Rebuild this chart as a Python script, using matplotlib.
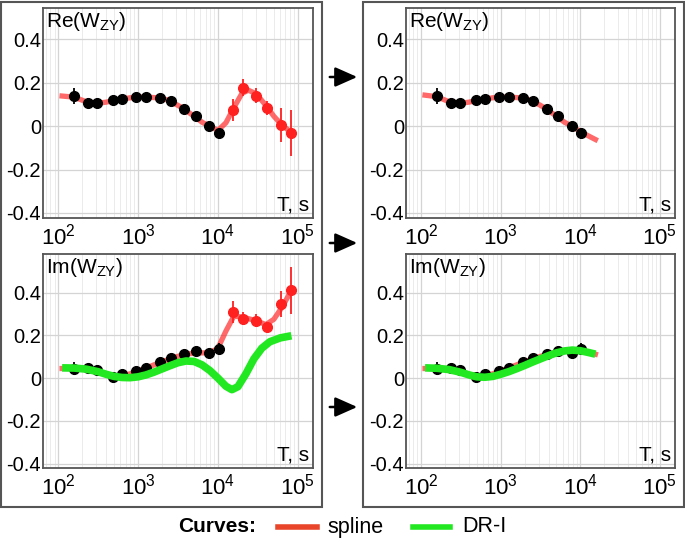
import numpy as np
import matplotlib
matplotlib.use("Agg")
import matplotlib.pyplot as plt
from matplotlib.patches import Rectangle, FancyArrowPatch
from matplotlib.lines import Line2D
from matplotlib.ticker import LogLocator, FixedLocator, NullFormatter

plt.rcParams['font.family'] = ['Liberation Sans', 'DejaVu Sans']
plt.rcParams['mathtext.fontset'] = 'custom'
plt.rcParams['mathtext.rm'] = 'Liberation Sans'
plt.rcParams['mathtext.it'] = 'Liberation Sans'

#--------------------------------------------------
# data
# observed points, T < 1e4 (black) and T > 1e4 (red)
T_blk = [160, 234, 310, 490, 630, 955, 1260, 1900, 2570, 3800, 5250, 7760, 10200]
T_red = [15500, 20400, 30200, 40700, 61700, 83200]

re_blk  = [0.138, 0.108, 0.104, 0.120, 0.125, 0.132, 0.132, 0.129, 0.116, 0.078, 0.048, 0.000, -0.033]
re_blk_err = [0.035, 0.02, 0.02, 0.015, 0.015, 0.012, 0.012, 0.012, 0.012, 0.012, 0.012, 0.015, 0.025]
re_red  = [0.075, 0.177, 0.140, 0.083, 0.005, -0.033]
re_red_err = [0.05, 0.04, 0.035, 0.03, 0.08, 0.105]

im_blk  = [0.043, 0.046, 0.040, 0.005, 0.017, 0.032, 0.048, 0.074, 0.094, 0.115, 0.125, 0.117, 0.138]
im_blk_err = [0.03, 0.02, 0.02, 0.012, 0.012, 0.012, 0.012, 0.012, 0.012, 0.012, 0.012, 0.015, 0.025]
im_red  = [0.309, 0.277, 0.268, 0.238, 0.346, 0.411]
im_red_err = [0.05, 0.03, 0.03, 0.015, 0.06, 0.11]

# spline curves, full range (left column)
T_spl   = [112, 158, 224, 316, 400, 501, 631, 794, 1000, 1259, 1585, 1995, 2512, 3162, 3981, 5012, 6310,
           7943, 10000, 12589, 15849, 19953, 23988, 30200, 39811, 50119, 63096, 83176]
re_spl  = [0.138, 0.133, 0.112, 0.105, 0.110, 0.118, 0.124, 0.130, 0.133, 0.133, 0.131, 0.128, 0.115, 0.095,
           0.072, 0.045, 0.018, -0.002, -0.020, 0.015, 0.085, 0.150, 0.165, 0.148, 0.095, 0.045, 0.005, -0.030]
im_spl  = [0.045, 0.046, 0.044, 0.032, 0.018, 0.010, 0.012, 0.020, 0.034, 0.047, 0.062, 0.076, 0.090, 0.102,
           0.112, 0.117, 0.118, 0.118, 0.140, 0.220, 0.290, 0.285, 0.278, 0.268, 0.250, 0.275, 0.330, 0.410]

# spline curves, truncated range (right column)
T_spl2  = [112, 158, 224, 316, 400, 501, 631, 794, 1000, 1259, 1585, 1995, 2512, 3162, 3981, 5012, 6310,
           7943, 10000, 12589, 15500]
re_spl2 = [0.142, 0.135, 0.112, 0.105, 0.110, 0.118, 0.124, 0.130, 0.133, 0.133, 0.131, 0.128, 0.115, 0.095,
           0.072, 0.045, 0.018, -0.002, -0.025, -0.045, -0.062]
im_spl2 = [0.045, 0.046, 0.044, 0.032, 0.018, 0.010, 0.012, 0.020, 0.034, 0.047, 0.062, 0.076, 0.090, 0.102,
           0.112, 0.120, 0.126, 0.128, 0.128, 0.122, 0.112]

# DR-I curves
T_dr    = [112, 158, 224, 316, 398, 501, 631, 794, 1000, 1259, 1585, 1995, 2512, 3162, 3981, 5012, 6310,
           7943, 10000, 12589, 14962, 17783, 22387, 28184, 35481, 44668, 60256, 83176]
im_dr   = [0.048, 0.047, 0.042, 0.030, 0.018, 0.008, 0.003, 0.002, 0.006, 0.015, 0.028, 0.043, 0.058, 0.072,
           0.080, 0.078, 0.062, 0.035, 0.000, -0.038, -0.054, -0.040, 0.020, 0.090, 0.140, 0.170, 0.188, 0.198]
T_dr2   = [112, 158, 224, 316, 400, 501, 631, 794, 1000, 1259, 1585, 1995, 2512, 3162, 3981, 5012, 6310,
           7943, 10000, 12589, 15500]
im_dr2  = [0.048, 0.046, 0.040, 0.027, 0.015, 0.006, 0.004, 0.008, 0.018, 0.030, 0.044, 0.059, 0.075, 0.090,
           0.105, 0.118, 0.127, 0.131, 0.128, 0.120, 0.112]

yticks = [-0.4, -0.2, 0, 0.2, 0.4]
yticklabels = ['-0.4', '-0.2', '0', '0.2', '0.4']
xticks = [1e2, 1e3, 1e4, 1e5]

#--------------------------------------------------
W, H = 685, 545
fig = plt.figure(figsize=(W/100, H/100), dpi=100)

def px_rect(x0, y0, x1, y1):
    return [x0/W, 1 - y1/H, (x1 - x0)/W, (y1 - y0)/H]

# outer frames
for x0, x1 in [(1, 322), (363, 684)]:
    r = px_rect(x0, 2, x1, 507)
    fig.patches.append(Rectangle((r[0], r[1]), r[2], r[3], transform=fig.transFigure,
                                 fill=False, ec='#555555', lw=1.5))

spline_col = '#ff2a2a'
green_col  = '#22e822'

def setup(ax, title, ylim):
    ax.set_xscale('log')
    ax.set_xlim(10**1.81, 10**5.19)
    ax.set_ylim(ylim)
    ax.set_yticks(yticks)
    ax.set_yticklabels(yticklabels)
    ax.xaxis.set_major_locator(FixedLocator(xticks))
    ax.xaxis.set_minor_locator(LogLocator(base=10, subs=np.arange(2, 10)))
    ax.xaxis.set_minor_formatter(NullFormatter())
    ax.grid(True, which='major', color='#d4d4d4', lw=0.9)
    ax.grid(True, which='minor', axis='x', color='#ebebeb', lw=0.7)
    ax.set_axisbelow(True)
    ax.tick_params(axis='both', which='both', length=0)
    ax.tick_params(axis='y', labelsize=14.5, pad=1.5)
    ax.tick_params(axis='x', labelsize=16, pad=4)
    for s in ax.spines.values():
        s.set_color('#555555')
        s.set_linewidth(1.3)
    ax.text(0.012, 0.99, title, transform=ax.transAxes, ha='left', va='top', fontsize=15)
    ax.text(0.985, 0.015, 'T, s', transform=ax.transAxes, ha='right', va='bottom', fontsize=15)

def points(ax, T, v, e, col):
    ax.errorbar(T, v, yerr=e, fmt='o', color=col, ms=7, elinewidth=1.3, capsize=0, zorder=4)

ylim_top = (-0.423, 0.543)
ylim_bot = (-0.42, 0.58)

ax_tl = fig.add_axes(px_rect(43, 8, 313, 218))
ax_bl = fig.add_axes(px_rect(43, 254, 313, 468))
ax_tr = fig.add_axes(px_rect(406, 8, 675, 218))
ax_br = fig.add_axes(px_rect(406, 254, 675, 468))

re_title = r'Re(W$_{\mathregular{ZY}}$)'
im_title = r'Im(W$_{\mathregular{ZY}}$)'

# top left
setup(ax_tl, re_title, ylim_top)
ax_tl.plot(T_spl, re_spl, color=spline_col, lw=3.8, alpha=0.7, zorder=3)
points(ax_tl, T_blk, re_blk, re_blk_err, 'black')
points(ax_tl, T_red, re_red, re_red_err, '#ff2020')

# bottom left
setup(ax_bl, im_title, ylim_bot)
ax_bl.plot(T_spl, im_spl, color=spline_col, lw=3.8, alpha=0.7, zorder=3)
points(ax_bl, T_blk, im_blk, im_blk_err, 'black')
points(ax_bl, T_red, im_red, im_red_err, '#ff2020')
ax_bl.plot(T_dr, im_dr, color=green_col, lw=5.5, solid_capstyle='butt', zorder=5)

# top right
setup(ax_tr, re_title, ylim_top)
ax_tr.plot(T_spl2, re_spl2, color=spline_col, lw=3.8, alpha=0.7, zorder=3)
points(ax_tr, T_blk, re_blk, re_blk_err, 'black')

# bottom right
setup(ax_br, im_title, ylim_bot)
ax_br.plot(T_spl2, im_spl2, color=spline_col, lw=3.8, alpha=0.7, zorder=3)
points(ax_br, T_blk, im_blk, im_blk_err, 'black')
ax_br.plot(T_dr2, im_dr2, color=green_col, lw=5.5, solid_capstyle='butt', zorder=5)

# arrows between the columns
for y in [77, 243, 407]:
    fig.add_artist(FancyArrowPatch(
        (327/W, 1 - y/H), (360/W, 1 - y/H), transform=fig.transFigure,
        arrowstyle='-|>,head_length=9,head_width=4', color='black', lw=1.8,
        mutation_scale=1.5))

# legend row
yl = 1 - 527/H
fig.text(178/W, yl, 'Curves:', fontsize=15, fontweight='bold', ha='left', va='center')
fig.add_artist(Line2D([278/W, 317/W], [yl, yl], color='#e8452a', lw=4, transform=fig.transFigure))
fig.text(327/W, yl, 'spline', fontsize=15.5, ha='left', va='center')
fig.add_artist(Line2D([413/W, 450/W], [yl, yl], color=green_col, lw=4, transform=fig.transFigure))
fig.text(462/W, yl, 'DR-I', fontsize=15.5, ha='left', va='center')

plt.savefig('out.png', dpi=100)
